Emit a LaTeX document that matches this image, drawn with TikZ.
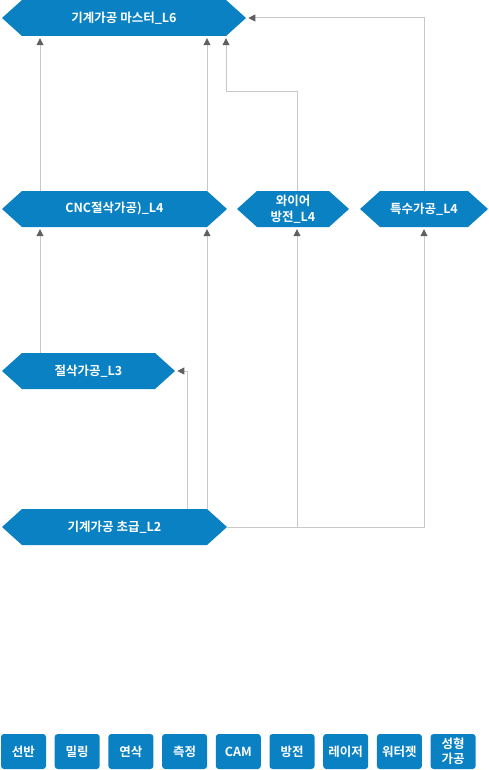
\documentclass[tikz,border=0pt]{standalone}
\usepackage{fontspec}
\newfontfamily\krbold{Noto Sans CJK KR Bold}
\usetikzlibrary{shapes.symbols,arrows.meta}
\definecolor{levelblue}{RGB}{10,129,194}
\definecolor{linkgray}{RGB}{200,200,200}
\definecolor{tipgray}{RGB}{96,96,96}
\tikzset{
  level/.style={signal, signal to=west and east, signal pointer angle=84, fill=levelblue, text=white,
    minimum height=36pt, inner sep=0pt, align=center, font=\krbold\fontsize{12.5}{15.5}\selectfont},
  skill/.style={rectangle, rounded corners=3pt, fill=levelblue, text=white, minimum width=45pt,
    minimum height=35pt, inner sep=0pt, align=center, font=\krbold\fontsize{12.5}{15.5}\selectfont},
  link/.style={draw=linkgray, line width=1pt, -{Triangle[length=7pt,width=7pt,color=tipgray]}, shorten >=2pt},
  plain/.style={draw=linkgray, line width=1pt}
}

\begin{document}
\begin{tikzpicture}[x=1pt,y=-1pt]
    \useasboundingbox (0,0) rectangle (488,770);

    \node[level, minimum width=244pt] (l6) at (124,18) {기계가공 마스터\_L6};
    \node[level, minimum width=225pt] (cnc) at (114.5,209) {CNC절삭가공)\_L4};
    \node[level, minimum width=112pt] (wire) at (293,209) {와이어\\방전\_L4};
    \node[level, minimum width=128pt] (special) at (424,209) {특수가공\_L4};
    \node[level, minimum width=173pt] (l3) at (88.5,371) {절삭가공\_L3};
    \node[level, minimum width=225pt] (l2) at (114.5,527) {기계가공 초급\_L2};

    \coordinate (colA) at (40,0);
    \coordinate (colB) at (187,0);
    \coordinate (colC) at (207,0);
    \coordinate (colD) at (226,0);
    \coordinate (colE) at (297,0);
    \coordinate (bend) at (0,92);

    \draw[link] (cnc.north -| colA) -- (l6.south -| colA);
    \draw[link] (cnc.north -| colC) -- (l6.south -| colC);
    \draw[link] (wire.north -| colE) |- (bend -| colD) -- (l6.south -| colD);
    \draw[link] (special.north) |- (l6.east);

    \draw[link] (l3.north -| colA) -- (cnc.south -| colA);
    \draw[link] (l2.north -| colC) -- (cnc.south -| colC);
    \draw[link] (l2.north -| colB) |- (l3.east);
    \draw[link] (l2.east) -| (wire.south -| colE);
    \draw[link] (l2.east) -| (special.south);

    \foreach \name [count=\i from 0] in {선반,밀링,연삭,측정,CAM,방전,레이저,워터젯,{성형\\가공}}
        \node[skill] (skill\i) at (23.5+53.7*\i,751.5) {\name};
\end{tikzpicture}
\end{document}
